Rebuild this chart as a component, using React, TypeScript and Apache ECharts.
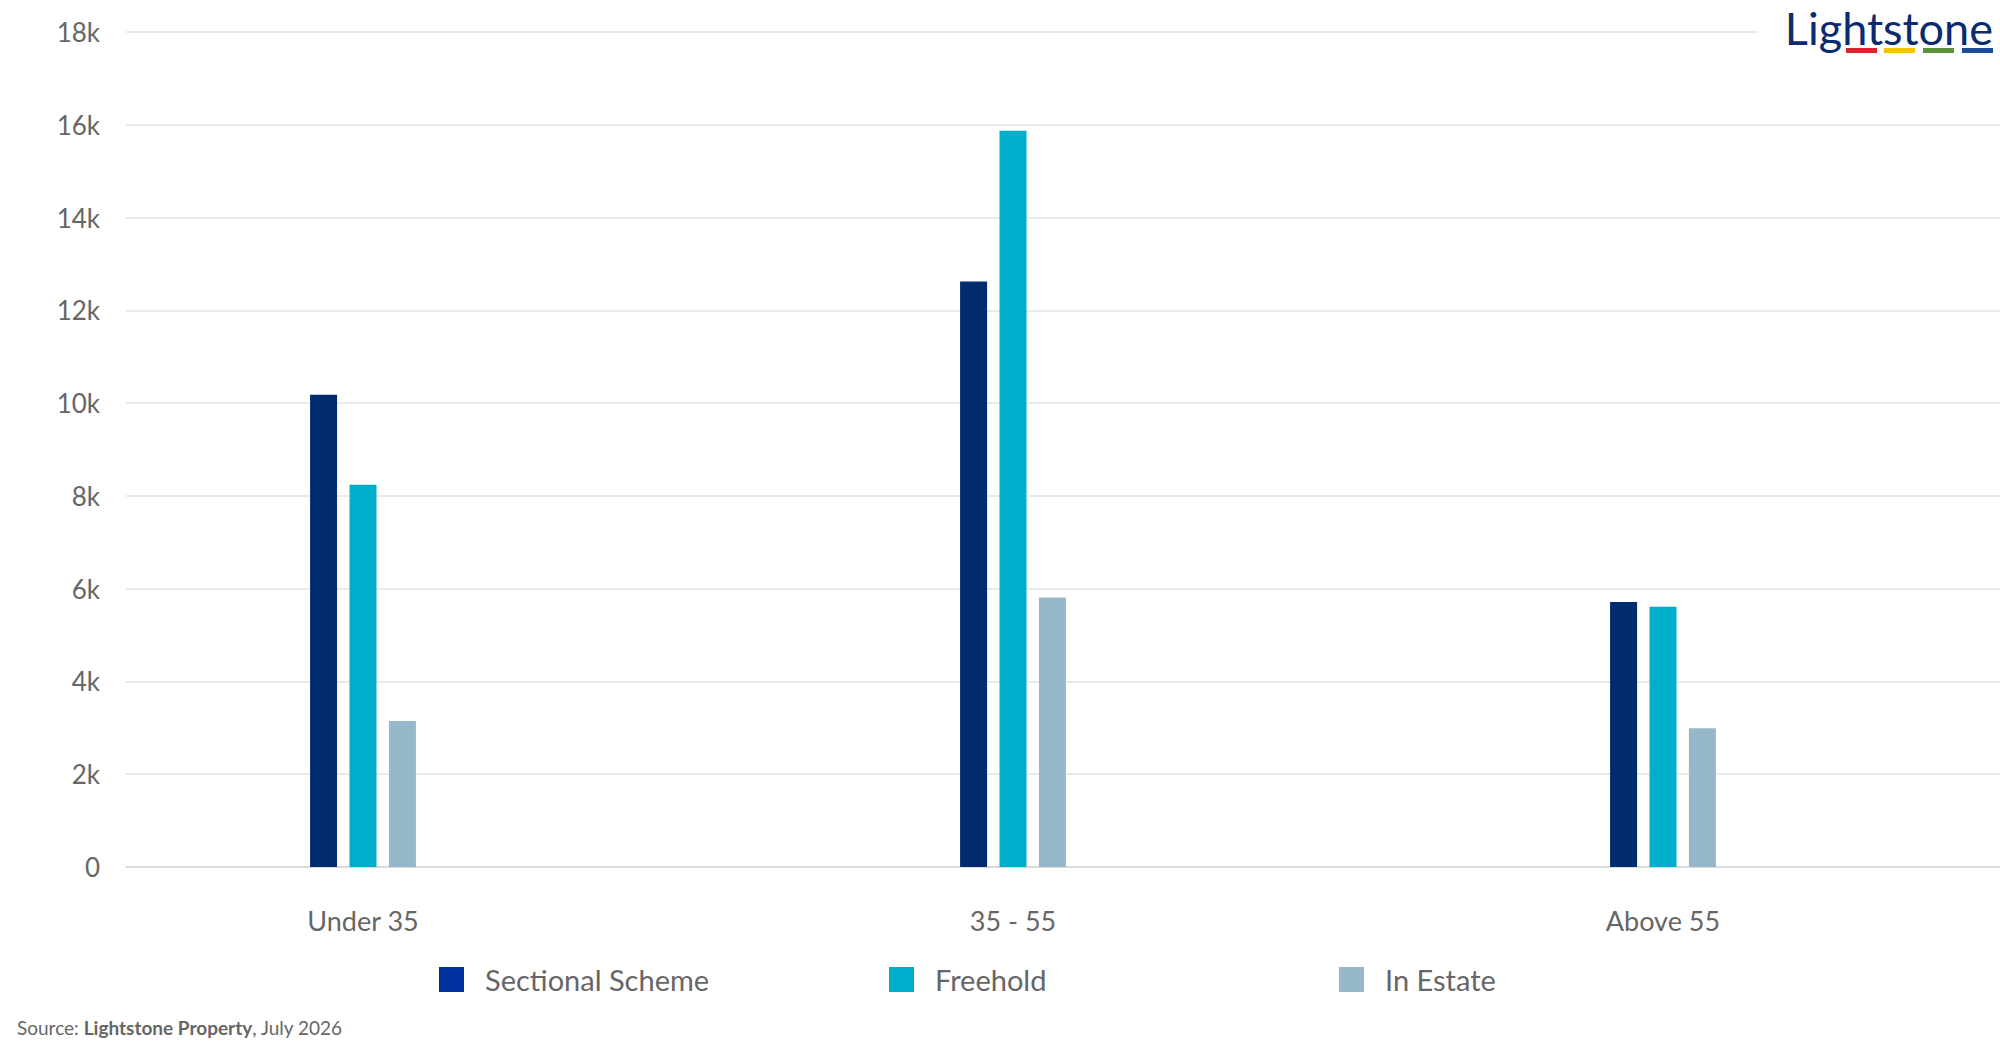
import React, { useEffect, useRef } from "react";
import * as echarts from "echarts";

const categories = ["Under 35", "35 - 55", "Above 55"];
const seriesNames = ["Sectional Scheme", "Freehold", "In Estate"];
const sectionalScheme = [10180, 12620, 5710];
const freehold = [8240, 15870, 5610];
const inEstate = [3150, 5810, 2990];
const barColors = ["#002B6E", "#00ADCA", "#97B7CA"];
const legendColors = ["#0033A0", "#00AECB", "#97B8CB"];
const yTicks = { min: 0, max: 18000, interval: 2000 };

const FONT = "Lato, 'Noto Sans', sans-serif";
const TEXT = "#666666";

export default function App() {
  const ref = useRef<HTMLDivElement>(null);
  useEffect(() => {
    if (!ref.current) return;
    const chart = echarts.init(ref.current, undefined, { renderer: "svg" });
    const data = [sectionalScheme, freehold, inEstate];
    const legendLefts = [434, 884, 1334];
    const option: any = {
      animation: false,
      backgroundColor: "#ffffff",
      textStyle: { fontFamily: FONT },
      grid: [
        { left: 126, right: 0, top: 32, bottom: 183 },
        { left: 38, width: 1950, top: 32, bottom: 183 },
      ],
      xAxis: [
        {
          gridIndex: 0,
          type: "category",
          data: categories,
          axisLine: { show: true, lineStyle: { color: "#d6d6d6", width: 1.5 } },
          axisTick: { show: false },
          axisLabel: { show: false },
          splitLine: { show: false },
        },
        {
          gridIndex: 1,
          type: "category",
          data: categories,
          axisLine: { show: false },
          axisTick: { show: false },
          axisLabel: {
            show: true,
            color: TEXT,
            fontSize: 27,
            fontFamily: FONT,
            margin: 40,
          },
        },
      ],
      yAxis: [
        {
          gridIndex: 0,
          type: "value",
          min: yTicks.min,
          max: yTicks.max,
          interval: yTicks.interval,
          axisLine: { show: false },
          axisTick: { show: false },
          axisLabel: {
            color: TEXT,
            fontSize: 26,
            fontFamily: FONT,
            margin: 26,
            formatter: (v: number) => (v === 0 ? "0" : v / 1000 + "k"),
          },
          splitLine: { show: true, lineStyle: { color: "#e3e3e3", width: 1.5 } },
        },
        {
          gridIndex: 1,
          type: "value",
          min: yTicks.min,
          max: yTicks.max,
          interval: yTicks.interval,
          show: false,
          splitLine: { show: false },
        },
      ],
      legend: seriesNames.map((name, i) => ({
        data: [{ name, itemStyle: { color: legendColors[i] } }],
        left: legendLefts[i],
        top: 960,
        itemWidth: 25,
        itemHeight: 25,
        icon: "rect",
        selectedMode: false,
        textStyle: {
          color: TEXT,
          fontSize: 29,
          fontFamily: FONT,
          padding: [0, 0, 0, 16],
        },
      })),
      series: seriesNames.map((name, i) => ({
        name,
        type: "bar",
        xAxisIndex: 1,
        yAxisIndex: 1,
        data: data[i],
        barWidth: 27,
        barGap: "46%",
        itemStyle: { color: barColors[i] },
      })),
      graphic: [
        {
          type: "rect",
          z: 100,
          shape: { x: 1758, y: 0, width: 242, height: 60 },
          style: { fill: "#ffffff" },
        },
        {
          type: "text",
          z: 101,
          style: {
            text: "Lightstone",
            x: 1993,
            y: 28,
            textAlign: "right",
            textVerticalAlign: "middle",
            fill: "#0B2A6F",
            font: "normal 45px " + FONT,
          },
        },
        { type: "rect", z: 101, shape: { x: 1846, y: 48, width: 31, height: 5 }, style: { fill: "#D7262F" } },
        { type: "rect", z: 101, shape: { x: 1884, y: 48, width: 31, height: 5 }, style: { fill: "#F2C500" } },
        { type: "rect", z: 101, shape: { x: 1923, y: 48, width: 31, height: 5 }, style: { fill: "#5B9239" } },
        { type: "rect", z: 101, shape: { x: 1962, y: 48, width: 31, height: 5 }, style: { fill: "#1E4A9A" } },
        {
          type: "text",
          z: 101,
          style: {
            text: "{a|Source: }{b|Lightstone Property}{a|, July 2026}",
            x: 17,
            y: 1027,
            textVerticalAlign: "middle",
            rich: {
              a: { fontSize: 19, fontFamily: FONT, fill: TEXT, color: TEXT },
              b: { fontSize: 19, fontFamily: FONT, fontWeight: "bold", fill: TEXT, color: TEXT },
            },
          },
        },
      ],
    };
    chart.setOption(option);
    return () => chart.dispose();
  }, []);
  return (
    <div
      ref={ref}
      style={{ position: "absolute", left: 0, top: 0, width: 2000, height: 1050 }}
    />
  );
}
